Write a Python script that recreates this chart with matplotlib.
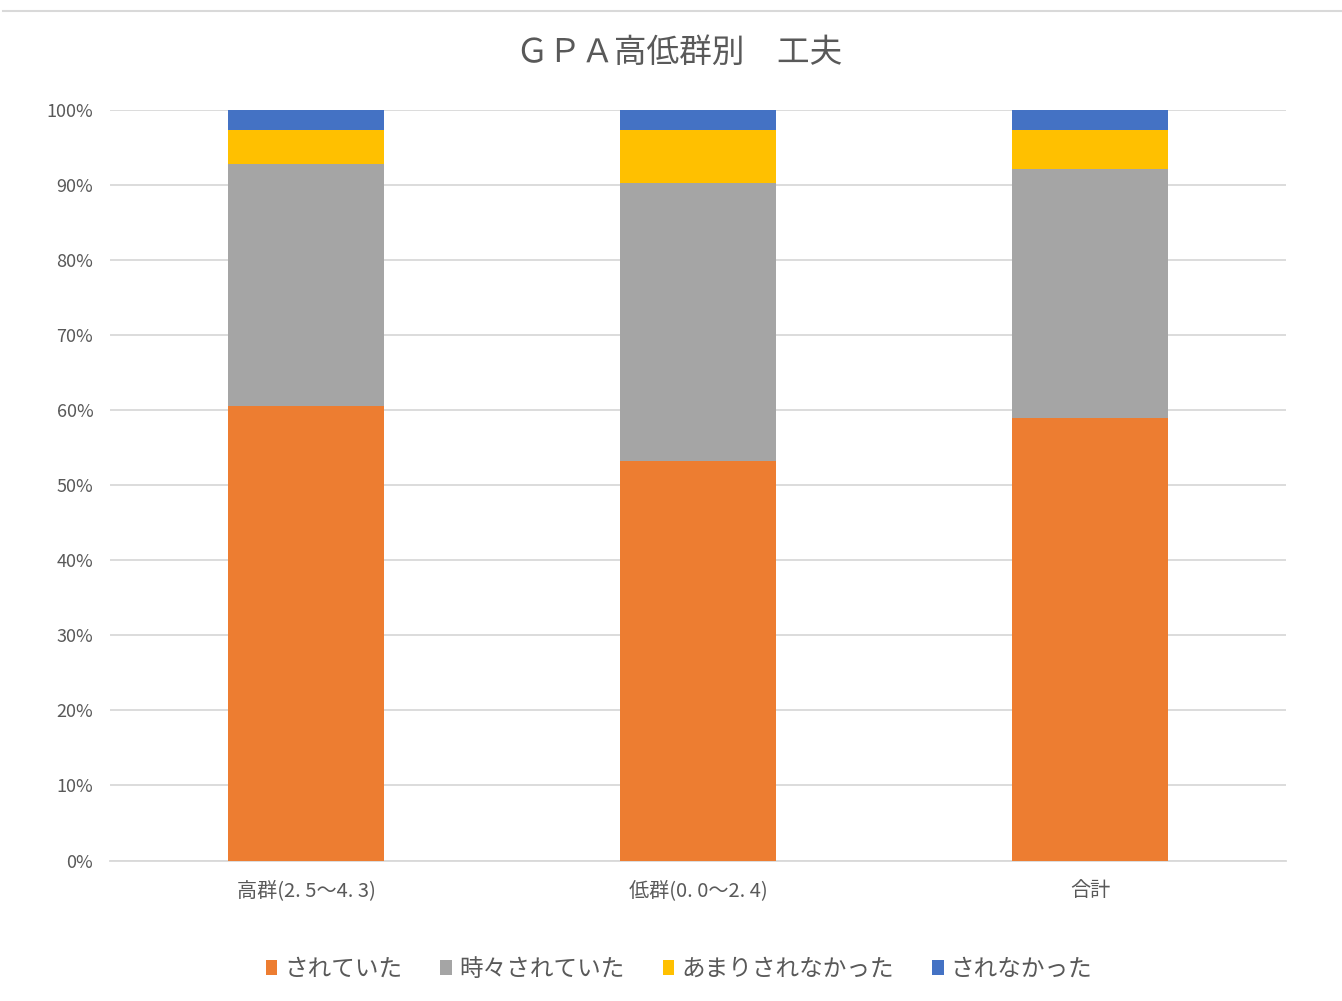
import numpy as np
import matplotlib
matplotlib.use('Agg')
import matplotlib.pyplot as plt
from matplotlib.lines import Line2D

plt.rcParams['font.family'] = ['Noto Sans CJK JP', 'DejaVu Sans']

# data (percent)
groups = ['高群(2. 5～4. 3)', '低群(0. 0～2. 4)', '合計']
series_names = ['されていた', '時々されていた', 'あまりされなかった', 'されなかった']
s_done = [60.5, 53.2, 58.9]
s_sometimes = [32.3, 37.1, 33.3]
s_rarely = [4.6, 7.1, 5.2]
s_never = [2.6, 2.6, 2.6]
colors = ['#ED7D31', '#A5A5A5', '#FFC000', '#4472C4']
yticks = [0, 10, 20, 30, 40, 50, 60, 70, 80, 90, 100]

txt = '#595959'

fig = plt.figure(figsize=(13.42, 10.01), dpi=100)
ax = fig.add_axes([110/1342, 1 - 860.5/1001, 1176/1342, 750.5/1001])

x = np.arange(len(groups))
bottom = np.zeros(len(groups))
for vals, col, name in zip([s_done, s_sometimes, s_rarely, s_never], colors, series_names):
    ax.bar(x, vals, width=0.4, bottom=bottom, color=col, label=name, zorder=3)
    bottom += np.array(vals)

ax.set_xlim(-0.5, len(groups) - 0.5)
ax.set_ylim(0, 100)
ax.set_yticks(yticks)
ax.set_yticklabels([f'{v}%' for v in yticks], fontsize=13, color=txt)
ax.set_xticks(x)
ax.set_xticklabels(groups, fontsize=14.5, color=txt)
ax.tick_params(length=0, pad=12)
ax.tick_params(axis='x', pad=14)
ax.grid(axis='y', color='#D9D9D9', linewidth=1.3, zorder=0)
for s in ['top', 'right', 'left']:
    ax.spines[s].set_visible(False)
ax.spines['bottom'].set_color('#D9D9D9')
ax.spines['bottom'].set_linewidth(1.3)

fig.text(0.506, 1 - 53/1001, 'ＧＰＡ高低群別　工夫', ha='center', va='center',
         fontsize=23.5, color=txt)

# border line at the top of the chart area
fig.add_artist(Line2D([3/1342, 1], [1 - 11/1001, 1 - 11/1001], color='#D9D9D9', linewidth=1.5))

fig.legend(loc='center', bbox_to_anchor=(0.506, 1 - 969/1001), ncol=4, frameon=False,
           fontsize=17, handlelength=0.5, handleheight=0.6, handletextpad=0.3,
           columnspacing=1.6, labelcolor=txt)

fig.savefig('out.png', dpi=100)
